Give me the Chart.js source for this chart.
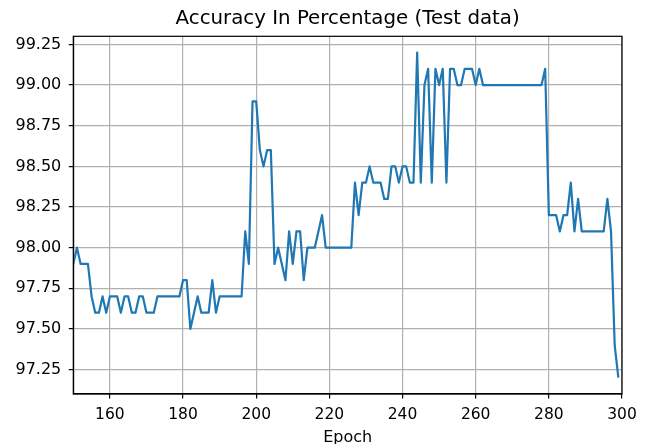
<!DOCTYPE html>
<html>
<head>
<meta charset="utf-8">
<script src="https://cdn.jsdelivr.net/npm/chart.js@4/dist/chart.umd.min.js"></script>
<style>
  html, body { margin: 0; padding: 0; background: #ffffff; }
  #wrap { width: 647px; height: 444px; }
</style>
</head>
<body>
<div id="wrap"><canvas id="c" width="647" height="444"></canvas></div>
<script>
const chartTitle = "Accuracy In Percentage (Test data)";
const xAxisTitle = "Epoch";

const epochs = [
  150,151,152,153,154,155,156,157,158,159,
  160,161,162,163,164,165,166,167,168,169,
  170,171,172,173,174,175,176,177,178,179,
  180,181,182,183,184,185,186,187,188,189,
  190,191,192,193,194,195,196,197,198,199,
  200,201,202,203,204,205,206,207,208,209,
  210,211,212,213,214,215,216,217,218,219,
  220,221,222,223,224,225,226,227,228,229,
  230,231,232,233,234,235,236,237,238,239,
  240,241,242,243,244,245,246,247,248,249,
  250,251,252,253,254,255,256,257,258,259,
  260,261,262,263,264,265,266,267,268,269,
  270,271,272,273,274,275,276,277,278,279,
  280,281,282,283,284,285,286,287,288,289,
  290,291,292,293,294,295,296,297,298,299
];

const accuracy = [
  97.9, 98.0, 97.9, 97.9, 97.9, 97.7, 97.6, 97.6, 97.7, 97.6,
  97.7, 97.7, 97.7, 97.6, 97.7, 97.7, 97.6, 97.6, 97.7, 97.7,
  97.6, 97.6, 97.6, 97.7, 97.7, 97.7, 97.7, 97.7, 97.7, 97.7,
  97.8, 97.8, 97.5, 97.6, 97.7, 97.6, 97.6, 97.6, 97.8, 97.6,
  97.7, 97.7, 97.7, 97.7, 97.7, 97.7, 97.7, 98.1, 97.9, 98.9,
  98.9, 98.6, 98.5, 98.6, 98.6, 97.9, 98.0, 97.9, 97.8, 98.1,
  97.9, 98.1, 98.1, 97.8, 98.0, 98.0, 98.0, 98.1, 98.2, 98.0,
  98.0, 98.0, 98.0, 98.0, 98.0, 98.0, 98.0, 98.4, 98.2, 98.4,
  98.4, 98.5, 98.4, 98.4, 98.4, 98.3, 98.3, 98.5, 98.5, 98.4,
  98.5, 98.5, 98.4, 98.4, 99.2, 98.4, 99.0, 99.1, 98.4, 99.1,
  99.0, 99.1, 98.4, 99.1, 99.1, 99.0, 99.0, 99.1, 99.1, 99.1,
  99.0, 99.1, 99.0, 99.0, 99.0, 99.0, 99.0, 99.0, 99.0, 99.0,
  99.0, 99.0, 99.0, 99.0, 99.0, 99.0, 99.0, 99.0, 99.0, 99.1,
  98.2, 98.2, 98.2, 98.1, 98.2, 98.2, 98.4, 98.1, 98.3, 98.1,
  98.1, 98.1, 98.1, 98.1, 98.1, 98.1, 98.3, 98.1, 97.4, 97.2
];

const xTicks = [160, 180, 200, 220, 240, 260, 280, 300];
const yTicks = [97.25, 97.5, 97.75, 98.0, 98.25, 98.5, 98.75, 99.0, 99.25];
const xRange = [150, 300];
const yRange = [97.1, 99.3];

const points = epochs.map((e, i) => ({ x: e, y: accuracy[i] }));

const FONT = "'DejaVu Sans', sans-serif";

const framePlugin = {
  id: 'frame',
  afterDraw(chart) {
    const { left, top, right, bottom } = chart.chartArea;
    const ctx = chart.ctx;
    ctx.save();
    ctx.strokeStyle = '#000000';
    ctx.lineWidth = 1.2;
    ctx.strokeRect(left, top, right - left, bottom - top);
    ctx.restore();
  }
};

new Chart(document.getElementById('c'), {
  type: 'line',
  data: {
    datasets: [{
      data: points,
      borderColor: '#1f77b4',
      backgroundColor: '#1f77b4',
      borderWidth: 2.2,
      pointRadius: 0,
      pointHoverRadius: 0,
      tension: 0,
      fill: false,
      borderJoinStyle: 'round',
      borderCapStyle: 'butt'
    }]
  },
  options: {
    responsive: false,
    devicePixelRatio: 1,
    animation: false,
    events: [],
    layout: { padding: { left: 0, right: 25, top: 0, bottom: 0 } },
    plugins: {
      legend: { display: false },
      tooltip: { enabled: false },
      title: { display: false }
    },
    scales: {
      x: {
        type: 'linear',
        min: xRange[0],
        max: xRange[1],
        afterBuildTicks(scale) { scale.ticks = xTicks.map(v => ({ value: v })); },
        afterFit(scale) { scale.height = 50; },
        ticks: {
          autoSkip: false,
          maxRotation: 0,
          padding: 7,
          color: '#000000',
          font: { family: FONT, size: 15.5 },
          callback: v => String(v)
        },
        grid: { color: '#b0b0b0', lineWidth: 1.2, tickColor: '#000000', tickLength: 4.5, drawOnChartArea: true },
        border: { display: true, color: '#000000', width: 1.2 },
        title: {
          display: true,
          text: xAxisTitle,
          color: '#000000',
          font: { family: FONT, size: 16 },
          padding: { top: 0, bottom: -3 }
        }
      },
      xTop: {
        type: 'linear',
        position: 'top',
        min: xRange[0],
        max: xRange[1],
        afterFit(scale) { scale.height = 36.3; },
        ticks: { display: false },
        grid: { display: false, drawTicks: false },
        border: { display: false },
        title: {
          display: true,
          text: chartTitle,
          color: '#000000',
          font: { family: FONT, size: 19.8, weight: 'normal' },
          padding: { top: 7, bottom: 0 }
        }
      },
      y: {
        type: 'linear',
        min: yRange[0],
        max: yRange[1],
        afterBuildTicks(scale) { scale.ticks = yTicks.map(v => ({ value: v })); },
        afterFit(scale) { scale.width = 73.3; },
        ticks: {
          autoSkip: false,
          padding: 7.5,
          color: '#000000',
          font: { family: FONT, size: 16 },
          callback: v => Number(v).toFixed(2)
        },
        grid: { color: '#b0b0b0', lineWidth: 1.2, tickColor: '#000000', tickLength: 4.5, drawOnChartArea: true },
        border: { display: true, color: '#000000', width: 1.2 }
      }
    }
  },
  plugins: [framePlugin]
});
</script>
</body>
</html>
